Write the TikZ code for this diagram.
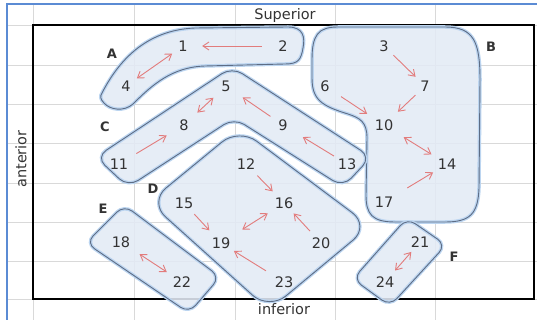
\documentclass[tikz,border=0pt]{standalone}
\usepackage{fontspec}
\setmainfont{DejaVu Sans}
\usetikzlibrary{arrows.meta}
\definecolor{gridgray}{HTML}{D9D9D9}
\definecolor{frameblue}{HTML}{5B8BD4}
\definecolor{blobfill}{HTML}{E3EAF5}
\definecolor{glow}{HTML}{BCD5F0}
\definecolor{edgegray}{HTML}{5D6D86}
\definecolor{arrowred}{HTML}{E27C7C}
\definecolor{ink}{HTML}{333333}

\begin{document}
\begin{tikzpicture}[x=1pt,y=-1pt,
  blob/.style={fill=blobfill,fill opacity=0.88,postaction={draw=glow,line width=3.5pt},postaction={draw=edgegray,line width=0.9pt}},
  num/.style={circle,minimum size=26pt,inner sep=0pt,text=ink,font=\fontsize{14.5}{16}\selectfont},
  tag/.style={text=ink,font=\fontsize{13}{15}\selectfont\bfseries},
  side/.style={text=ink,font=\fontsize{14.5}{16}\selectfont},
  arr/.style={-{Straight Barb[length=6pt,width=8pt]},draw=arrowred,line width=0.9pt},
  dbl/.style={arr,{Straight Barb[length=6pt,width=8pt]}-{Straight Barb[length=6pt,width=8pt]}}
]
\useasboundingbox (0,0) rectangle (537,320);
% sheet grid and frame
\foreach \gx in {33,134,235,335,435} \draw[gridgray] (\gx,5) -- (\gx,320);
\foreach \gy in {25,65,104,143,183,222,261,299} \draw[gridgray] (7,\gy) -- (537,\gy);
\draw[frameblue,line width=2pt] (6.5,320) -- (6.5,4.5) -- (537,4.5);
\draw[black,line width=1.6pt] (33,25) rectangle (534,299);

% regions
\path[blob] (102,93) .. controls (118,62) and (145,30) .. (195,28) -- (288,27)
  .. controls (304,27) and (305,38) .. (303,48) .. controls (301,60) and (298,64) .. (285,64)
  -- (205,66) .. controls (172,67) and (152,85) .. (133,104)
  .. controls (124,112) and (110,110) .. (104,103) .. controls (100,99) and (100,96) .. (102,93) -- cycle;
\path[blob] (338,27) -- (445,27) .. controls (474,27) and (480,42) .. (480,80) -- (479,188)
  .. controls (478,214) and (470,222) .. (445,222) -- (395,222) .. controls (372,222) and (366,214) .. (366,195)
  -- (367,138) .. controls (367,122) and (360,118) .. (348,114) .. controls (322,106) and (312,100) .. (312,78)
  -- (312,60) .. controls (312,35) and (318,27) .. (338,27) -- cycle;
\path[blob,rounded corners=12pt] (96,157) -- (232,67) -- (371,157) -- (343,187) -- (234,118) -- (128,187) -- cycle;
\path[blob,rounded corners=22pt] (239,128) -- (370,226) -- (269,310) -- (149,202) -- cycle;
\path[blob,rounded corners=10pt] (124,205) -- (220,277) -- (189,313) -- (86,243) -- cycle;
\path[blob,rounded corners=10pt] (407,218) -- (446,245) -- (390,306) -- (353,279) -- cycle;

% axis words
\node[side] (sup) at (285,16) {Superior};
\node[side] (inf) at (284,309) {inferior};
\node[side,rotate=90] (ant) at (21,159) {anterior};

% region letters
\node[tag] (tA) at (112,54) {A};
\node[tag] (tB) at (491,47) {B};
\node[tag] (tC) at (105,127) {C};
\node[tag] (tD) at (153,189) {D};
\node[tag] (tE) at (103,209) {E};
\node[tag] (tF) at (454,257) {F};

% points
\node[num] (n1) at (183,46) {1};
\node[num] (n2) at (283,46) {2};
\node[num] (n3) at (384,46) {3};
\node[num] (n4) at (126,86) {4};
\node[num] (n5) at (226,86) {5};
\node[num] (n6) at (325,86) {6};
\node[num] (n7) at (425,86) {7};
\node[num] (n8) at (184,125) {8};
\node[num] (n9) at (283,125) {9};
\node[num] (n10) at (384,125) {10};
\node[num] (n11) at (119,164) {11};
\node[num] (n12) at (246,164) {12};
\node[num] (n13) at (347,164) {13};
\node[num] (n14) at (447,164) {14};
\node[num] (n15) at (184,203) {15};
\node[num] (n16) at (284,203) {16};
\node[num] (n17) at (384,202) {17};
\node[num] (n18) at (121,242) {18};
\node[num] (n19) at (221,243) {19};
\node[num] (n20) at (321,243) {20};
\node[num] (n21) at (420,242) {21};
\node[num] (n22) at (182,282) {22};
\node[num] (n23) at (284,282) {23};
\node[num] (n24) at (385,282) {24};

% moves
\draw[arr,shorten <=8pt,shorten >=6pt] (n2) -- (n1);
\draw[dbl] (n1) -- (n4);
\draw[dbl,shorten <=4pt,shorten >=5pt] (n5) -- (n8);
\draw[arr,shorten <=7pt,shorten >=7pt] (n11) -- (n8);
\draw[arr,shorten <=2pt,shorten >=7pt] (n9) -- (n5);
\draw[arr,shorten <=2pt,shorten >=10pt] (n13) -- (n9);
\draw[arr] (n3) -- (n7);
\draw[arr,shorten <=6pt,shorten >=7pt] (n6) -- (n10);
\draw[arr,shorten >=6pt] (n7) -- (n10);
\draw[dbl,shorten <=10pt,shorten >=5pt] (n10) -- (n14);
\draw[arr,shorten <=14pt,shorten >=3pt] (n17) -- (n14);
\draw[arr,shorten <=3pt,shorten >=3pt] (n12) -- (n16);
\draw[arr,shorten <=2pt,shorten >=4pt] (n15) -- (n19);
\draw[dbl,shorten <=12pt,shorten >=6pt] (n19) -- (n16);
\draw[arr,shorten <=3pt,shorten >=1pt] (n20) -- (n16);
\draw[arr,shorten <=8pt,shorten >=2pt] (n23) -- (n19);
\draw[dbl,shorten <=9pt,shorten >=5pt] (n18) -- (n22);
\draw[dbl,shorten >=2pt] (n21) -- (n24);
\end{tikzpicture}
\end{document}
